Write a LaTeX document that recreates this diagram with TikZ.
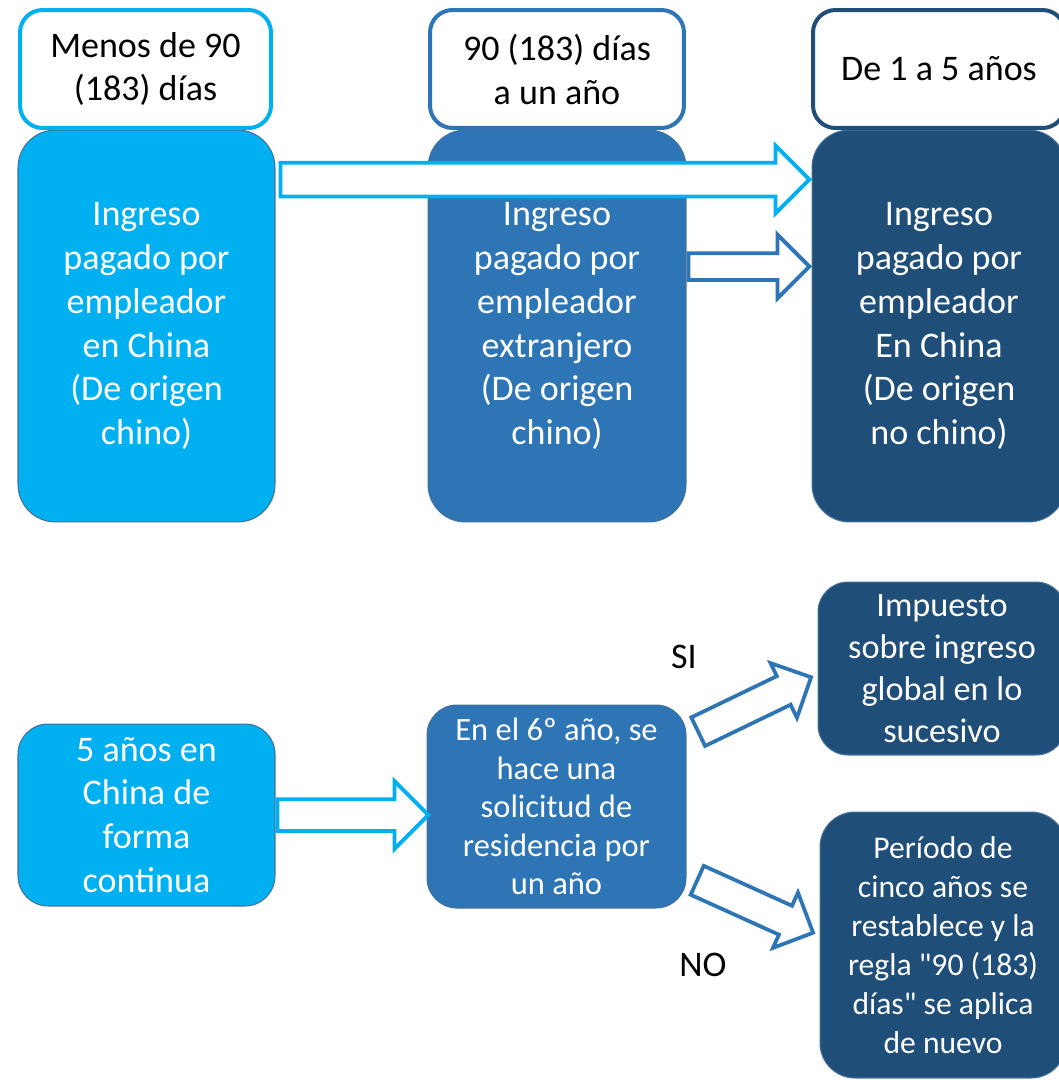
\documentclass[tikz,border=0pt]{standalone}
\usepackage{fontspec}
\setmainfont{Carlito}
\usetikzlibrary{shapes.arrows,calc}

\definecolor{cielo}{HTML}{00B0F0}
\definecolor{medio}{HTML}{2E75B6}
\definecolor{oscuro}{HTML}{1F4E79}
\definecolor{borde}{HTML}{41719C}

\tikzset{
  cabeza/.style={draw=#1, fill=white, line width=0.08cm, rounded corners=0.45cm,
    text=black, align=center, font=\fontsize{20.5}{25}\selectfont},
  bloque/.style={fill=#1, draw=borde, line width=0.6pt, rounded corners=0.75cm,
    text=white, align=center, font=\fontsize{20.5}{25}\selectfont},
  hueco/.style={single arrow, draw=#1, fill=white, line width=0.075cm, inner xsep=0pt,
    text height=0pt, text depth=0pt, anchor=tail, single arrow tip angle=90},
}

% flecha hueca de #1 a #2: color, media cana, saliente de la punta
\newcommand{\flecha}[5]{%
  \path let \p1=(#1), \p2=(#2), \n1={atan2(\y2-\y1,\x2-\x1)},
    \n2={veclen(\x2-\x1,\y2-\y1)} in
    node[hueco=#3, inner ysep=#4, single arrow head extend=#5,
      minimum height=\n2, rotate=\n1] at (\p1) {};}

\begin{document}
\begin{tikzpicture}[x=0.02cm,y=-0.02cm]
	\clip (0,0) rectangle (1059,1080);

	% columnas de arriba
	\node[bloque=cielo, minimum width=5.14cm, minimum height=7.84cm] (b1) at (146.5,326)
		{Ingreso\\pagado por\\empleador\\en China\\(De origen\\chino)};
	\node[bloque=medio, minimum width=5.16cm, minimum height=7.84cm] (b2) at (557,326)
		{Ingreso\\pagado por\\empleador\\extranjero\\(De origen\\chino)};
	\node[bloque=oscuro, minimum width=5.08cm, minimum height=7.84cm] (b3) at (939,326)
		{Ingreso\\pagado por\\empleador\\En China\\(De origen\\no chino)};

	\node[cabeza=cielo, minimum width=5.02cm, minimum height=2.36cm] (h1) at (145.5,69)
		{Menos de 90\\(183) días};
	\node[cabeza=medio, minimum width=5.08cm, minimum height=2.36cm] (h2) at (557,69)
		{90 (183) días\\a un año};
	\node[cabeza=oscuro, minimum width=5.04cm, minimum height=2.36cm] (h3) at (939,69)
		{De 1 a 5 años};

	\coordinate (a1s) at ($(b1.north east)+(3,50)$);
	\coordinate (a1e) at ($(b3.north west)+(-4,50)$);
	\coordinate (a2s) at ($(b2.north east)+(0,137)$);
	\coordinate (a2e) at ($(b3.north west)+(-4,137)$);
	\flecha{a1s}{a1e}{cielo}{0.3cm}{0.34cm}
	\flecha{a2s}{a2e}{medio}{0.23cm}{0.37cm}

	% fila de abajo
	\node[bloque=cielo, minimum width=5.14cm, minimum height=3.64cm, rounded corners=0.6cm] (b4) at (146.5,815)
		{5 años en\\China de\\forma\\continua};
	\node[bloque=medio, minimum width=5.18cm, minimum height=4.06cm, rounded corners=0.6cm,
		font=\fontsize{18.5}{22}\selectfont] (b5) at (556.5,806.5)
		{En el 6º año, se\\hace una\\solicitud de\\residencia por\\un año};
	\node[bloque=oscuro, minimum width=4.96cm, minimum height=3.46cm, rounded corners=0.6cm,
		font=\fontsize{19.5}{24}\selectfont] (b6) at (942,668.5)
		{Impuesto\\sobre ingreso\\global en lo\\sucesivo};
	\node[bloque=oscuro, minimum width=4.92cm, minimum height=5.32cm, rounded corners=0.7cm,
		font=\fontsize{18}{22.2}\selectfont] (b7) at (943,945)
		{Período de\\cinco años se\\restablece y la\\regla \textquotedbl 90 (183)\\días\textquotedbl{} se aplica\\de nuevo};

	\node[font=\fontsize{20.5}{25}\selectfont] (si) at (684,657) {SI};
	\node[font=\fontsize{20.5}{25}\selectfont] (no) at (703,965) {NO};

	\coordinate (a3e) at (b5.west |- b4.east);
	\coordinate (a4s) at ($(b5.north east)+(10,28)$);
	\coordinate (a4e) at ($(b6.west)+(-8,9.5)$);
	\coordinate (a5s) at ($(b5.south east)+(9,-29)$);
	\coordinate (a5e) at ($(b7.west)+(-8,-13)$);
	\flecha{b4.east}{a3e}{cielo}{0.28cm}{0.36cm}
	\flecha{a4s}{a4e}{medio}{0.28cm}{0.29cm}
	\flecha{a5s}{a5e}{medio}{0.28cm}{0.29cm}
\end{tikzpicture}
\end{document}
